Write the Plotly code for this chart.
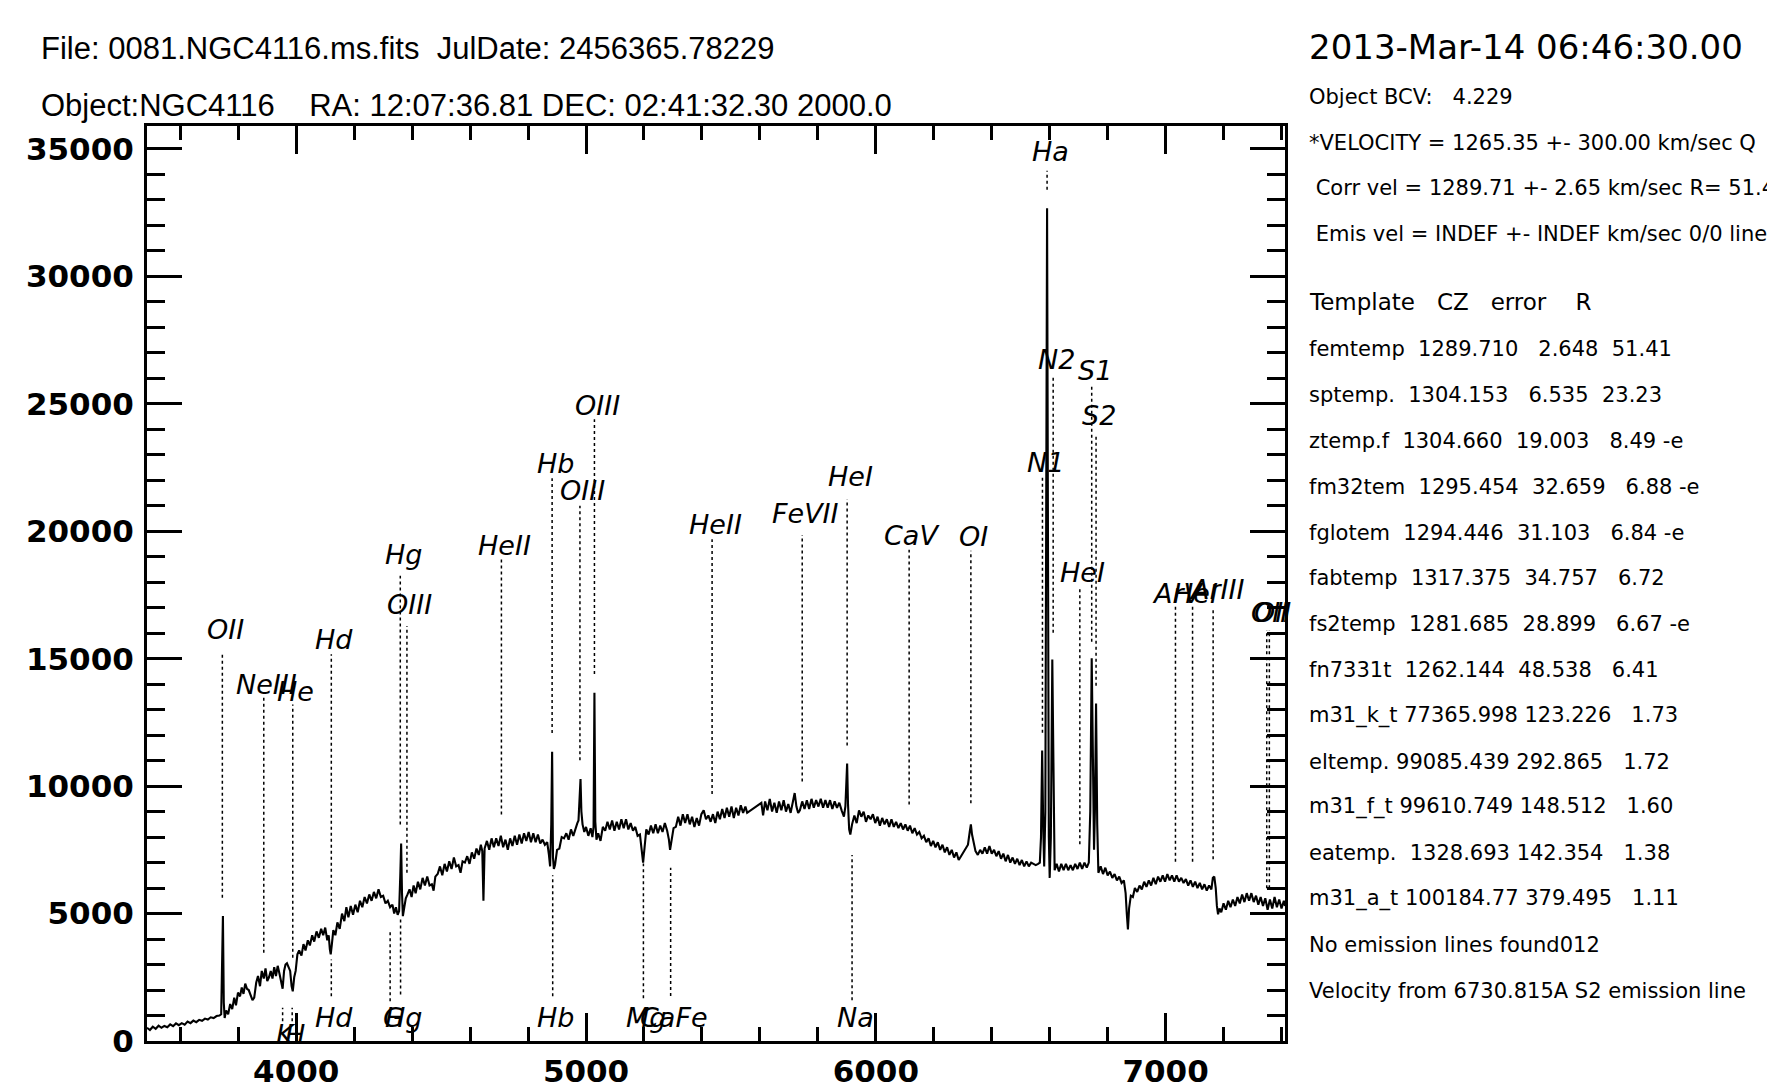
import plotly.graph_objects as go

# ---------------- spectrum (wavelength in Angstrom, flux in counts) ----------------
wave = [3485, 3495, 3505, 3515, 3525, 3535, 3545, 3555, 3565, 3575, 3585, 3595, 3605, 3615, 3625, 3635,
        3645, 3655, 3665, 3675, 3685, 3695, 3705, 3715, 3725, 3735, 3741, 3744, 3747, 3750, 3753,
        3758, 3765, 3772, 3779, 3786, 3792, 3799, 3806, 3812, 3818, 3824, 3830, 3836, 3843, 3849, 3855,
        3862, 3868, 3875, 3881, 3888, 3894, 3900, 3906, 3912, 3918, 3924, 3930, 3936, 3942, 3948, 3953,
        3958, 3963, 3968, 3974, 3979, 3984, 3988, 3993, 3998, 4004, 4010, 4018, 4025, 4032, 4040, 4047,
        4055, 4062, 4070, 4078, 4086, 4093, 4100, 4107, 4112, 4116, 4119, 4123, 4128, 4135, 4142, 4150,
        4158, 4166, 4173, 4180, 4188, 4196, 4204, 4212, 4220, 4228, 4236, 4244, 4252, 4260, 4268, 4276,
        4284, 4292, 4300, 4308, 4316, 4324, 4332, 4338, 4344, 4350, 4355, 4359, 4362, 4365, 4368, 4373,
        4378, 4384, 4391, 4398, 4405, 4412, 4420, 4428, 4436, 4444, 4452, 4460, 4468, 4474, 4480, 4488,
        4496, 4504, 4512, 4520, 4528, 4536, 4544, 4552, 4560, 4567, 4574, 4582, 4590, 4598, 4606, 4614,
        4622, 4630, 4637, 4642, 4646, 4650, 4658, 4666, 4674, 4682, 4690, 4698, 4706, 4714, 4722, 4730,
        4738, 4746, 4754, 4762, 4770, 4778, 4786, 4794, 4802, 4810, 4818, 4826, 4834, 4842, 4850, 4858,
        4866, 4872, 4876, 4880, 4883, 4886, 4889, 4893, 4900, 4908, 4916, 4924, 4932, 4940, 4948, 4956,
        4964, 4970, 4974, 4978, 4981, 4984, 4988, 4994, 5000, 5008, 5016, 5022, 5026, 5029, 5032, 5036,
        5042, 5050, 5058, 5066, 5074, 5082, 5090, 5098, 5106, 5114, 5122, 5130, 5138, 5146, 5154, 5162,
        5170, 5178, 5186, 5192, 5197, 5202, 5208, 5216, 5224, 5232, 5240, 5248, 5256, 5264, 5272, 5280,
        5286, 5290, 5295, 5302, 5310, 5318, 5326, 5334, 5342, 5350, 5358, 5366, 5374, 5382, 5390, 5398,
        5406, 5414, 5422, 5430, 5438, 5446, 5454, 5462, 5470, 5478, 5486, 5494, 5502, 5510, 5518, 5526,
        5534, 5542, 5550, 5556, 5605, 5611, 5618, 5626, 5634, 5642, 5650, 5658, 5666, 5674, 5682, 5690,
        5698, 5706, 5714, 5720, 5726, 5732, 5738, 5746, 5754, 5762, 5770, 5778, 5786, 5794, 5802, 5810,
        5818, 5826, 5834, 5842, 5850, 5858, 5866, 5874, 5882, 5890, 5895, 5898, 5901, 5904, 5908, 5912,
        5918, 5926, 5934, 5942, 5950, 5958, 5966, 5974, 5982, 5990, 5998, 6006, 6014, 6022, 6030, 6038,
        6046, 6054, 6062, 6070, 6078, 6086, 6094, 6102, 6110, 6118, 6126, 6134, 6142, 6150, 6158, 6166,
        6174, 6182, 6190, 6198, 6206, 6214, 6222, 6230, 6238, 6246, 6254, 6262, 6270, 6278, 6286, 6294,
        6302, 6310, 6318, 6324, 6328, 6332, 6338, 6344, 6352, 6360, 6368, 6376, 6384, 6392, 6400, 6408,
        6416, 6424, 6432, 6440, 6448, 6456, 6464, 6472, 6480, 6488, 6496, 6504, 6512, 6520, 6528, 6536,
        6544, 6552, 6560, 6566, 6570, 6574, 6578, 6581, 6585, 6588, 6591, 6594, 6597, 6600, 6604, 6609,
        6613, 6617, 6624, 6632, 6640, 6648, 6656, 6664, 6672, 6680, 6688, 6696, 6704, 6712, 6720, 6728,
        6735, 6740, 6745, 6750, 6753, 6756, 6760, 6764, 6768, 6776, 6784, 6792, 6800, 6808, 6816, 6824,
        6832, 6840, 6848, 6856, 6862, 6866, 6870, 6874, 6880, 6887, 6894, 6902, 6910, 6918, 6926, 6934,
        6942, 6950, 6958, 6966, 6974, 6982, 6990, 6998, 7006, 7014, 7022, 7030, 7038, 7046, 7054, 7062,
        7070, 7078, 7086, 7094, 7102, 7110, 7118, 7126, 7134, 7142, 7150, 7158, 7163, 7168, 7173, 7177,
        7181, 7186, 7192, 7200, 7208, 7216, 7224, 7232, 7240, 7248, 7256, 7264, 7272, 7280, 7288, 7296,
        7304, 7312, 7320, 7328, 7336, 7344, 7352, 7360, 7368, 7376, 7384, 7392, 7400, 7408, 7412]

flux = [520, 430, 560, 480, 600, 520, 590, 540, 650, 580, 690, 620, 700, 640, 760, 700,
        800, 740, 830, 790, 880, 840, 930, 900, 980, 1000, 1050, 2600, 4900, 1500, 900,
        1200, 1050, 1450, 1250, 1700, 1400, 1900, 1750, 2100, 1850, 2250, 2050, 2000, 1800, 1600, 1700,
        2300, 2550, 2150, 2750, 2450, 2850, 2350, 2500, 2750, 2450, 2900, 2550, 2950, 2650, 2350, 2050,
        2750, 3000, 3050, 2850, 2750, 2150, 1950, 2500, 2750, 3400, 3550, 3350, 3800, 3550, 3950, 3750,
        4150, 3900, 4300, 4050, 4400, 4150, 4450, 3950, 4150, 3600, 3400, 3800, 4350, 4150, 4650, 4400,
        5000, 4700, 5250, 4850, 5300, 4950, 5350, 5050, 5500, 5250, 5650, 5400, 5750, 5500, 5850, 5600,
        5950, 5650, 5700, 5400, 5500, 5250, 5350, 5000, 5250, 4950, 5100, 6500, 7750, 5800, 4900, 5250,
        5600, 5750, 5950, 5650, 6100, 5800, 6250, 5950, 6400, 6100, 6450, 6100, 6150, 5900, 6450, 6550,
        6850, 6500, 6950, 6650, 7050, 6750, 7200, 6850, 6900, 6600, 7050, 7000, 7250, 6950, 7400, 7150,
        7550, 7300, 7700, 7450, 5500, 7550, 7850, 7500, 7950, 7600, 7950, 7650, 8050, 7600, 7900, 7500,
        7950, 7650, 8050, 7700, 8100, 7750, 8150, 7850, 8200, 7800, 8150, 7800, 8100, 7750, 7900, 7700,
        7800, 7300, 6850, 8500, 11350, 7200, 6750, 6900, 7500, 7550, 8000, 7950, 8150, 7900, 8300, 8050,
        8400, 8550, 8650, 9400, 10280, 9000, 8500, 8200, 8400, 8050, 8350, 8000, 8400, 13660, 8600, 7900,
        8150, 7850, 8400, 8250, 8600, 8300, 8650, 8250, 8600, 8300, 8700, 8350, 8700, 8300, 8550, 8250,
        8400, 8050, 8100, 7500, 7000, 7600, 8300, 8100, 8450, 8150, 8500, 8150, 8450, 8200, 8550, 8250,
        7900, 7500, 7900, 8350, 8400, 8800, 8450, 8900, 8550, 8900, 8500, 8800, 8400, 8750, 8450, 8900,
        9050, 8700, 8850, 8600, 8900, 8550, 9000, 8700, 9100, 8750, 9150, 8800, 9200, 8750, 9150, 8850,
        9250, 8950, 9200, 8950, 9340, 8850, 9400, 9050, 9500, 9000, 9350, 8950, 9400, 9050, 9450, 9000,
        9300, 8950, 9400, 9730, 9200, 8950, 9050, 9400, 9100, 9450, 9100, 9500, 9150, 9450, 9200, 9500,
        9150, 9450, 9150, 9450, 9100, 9400, 9150, 9350, 9050, 8800, 9200, 10200, 10890, 9300, 8300, 8100,
        8500, 8850, 8550, 9050, 8800, 9000, 8600, 8850, 8700, 8900, 8550, 8800, 8450, 8750, 8500, 8700,
        8400, 8700, 8400, 8600, 8350, 8550, 8300, 8500, 8250, 8450, 8150, 8350, 8100, 8200, 7950, 8050,
        7800, 7950, 7650, 7850, 7600, 7800, 7500, 7700, 7400, 7600, 7300, 7500, 7200, 7400, 7100, 7250,
        7400, 7550, 7700, 8200, 8500, 8100, 7700, 7450, 7300, 7500, 7350, 7600, 7350, 7650, 7350, 7500,
        7250, 7450, 7150, 7350, 7050, 7300, 7000, 7200, 6950, 7150, 6900, 7100, 6850, 7050, 6850, 7000,
        6950, 6900, 6950, 7000, 8000, 11400, 8200, 6850, 9000, 20000, 32670, 20000, 8000, 6400, 8000, 14970,
        9000, 6700, 6950, 6650, 6950, 6700, 6950, 6700, 6900, 6700, 6950, 6750, 7000, 6750, 7000, 6800,
        7000, 9000, 15020, 9000, 7500, 9000, 13240, 8500, 6600, 6850, 6550, 6800, 6500, 6650, 6400, 6550,
        6300, 6450, 6200, 6300, 5800, 5000, 4380, 5200, 5700, 5650, 6000, 5850, 6100, 5950, 6250, 6050,
        6300, 6100, 6400, 6150, 6450, 6250, 6500, 6250, 6550, 6300, 6500, 6250, 6500, 6250, 6400, 6200,
        6350, 6100, 6300, 6050, 6250, 6000, 6200, 5950, 6150, 5900, 6100, 5950, 6400, 6450, 6000, 5300,
        4970, 5200, 5050, 5400, 5150, 5500, 5250, 5550, 5300, 5650, 5400, 5750, 5450, 5800, 5500, 5800,
        5450, 5700, 5350, 5650, 5300, 5600, 5150, 5550, 5200, 5650, 5250, 5550, 5200, 5500, 5300]

# ---------------- emission line markers (drawn above the spectrum) ----------------
em_names = ["OII", "NeIII", "He", "Hd", "Hg", "OIII", "HeII", "Hb", "OIII", "OIII", "HeII", "FeVII",
            "HeI", "CaV", "OI", "N1", "Ha", "N2", "HeI", "S1", "S2", "ArV", "HeI", "ArIII", "OII", "OII"]
em_wave = [3745, 3888, 3988, 4121, 4359, 4382, 4708, 4883, 4979, 5029, 5435, 5746,
           5901, 6115, 6328, 6575, 6591, 6612, 6704, 6745, 6760, 7034, 7093, 7164, 7349, 7358]
em_low = [5620, 3460, 3265, 5227, 8497, 6601, 8890, 12088, 11013, 14400, 9690, 10185,
          11597, 9282, 9333, 12095, 33403, 16013, 7720, 15667, 13941, 7030, 7030, 7130, 5993, 5993]
em_high = [15236, 13470, 13206, 15170, 18250, 16280, 18913, 22080, 21005, 24392, 19683, 19851,
           21252, 19270, 19238, 22115, 34140, 26032, 17739, 25686, 23729, 17052, 17052, 16900, 16127, 16127]
em_label = [16150, 13990, 13730, 15760, 19090, 17145, 19443, 22665, 21605, 24940, 20262, 20711,
            22162, 19851, 19812, 22692, 34898, 26723, 18387, 26307, 24533, 17563, 17563, 17700, 16817, 16817]

# ---------------- absorption line markers (drawn below the spectrum) ----------------
ab_names = ["K", "H", "Hd", "G", "Hg", "Hb", "Mg", "CaFe", "Na"]
ab_wave = [3953, 3986, 4121, 4324, 4360, 4885, 5198, 5292, 5918]
ab_low = [778, 778, 1760, 1563, 1825, 1760, 1680, 1762, 1597]
ab_high = [1302, 1302, 3200, 4310, 4768, 6500, 6966, 6801, 7296]
ab_label = [255, 255, 930, 930, 930, 930, 938, 938, 938]

# ---------------- header / side panel text ----------------
header_left = ["File: 0081.NGC4116.ms.fits  JulDate: 2456365.78229",
               "Object:NGC4116    RA: 12:07:36.81 DEC: 02:41:32.30 2000.0"]
date_text = "2013-Mar-14 06:46:30.00"
side_top = ["Object BCV:   4.229",
            "*VELOCITY = 1265.35 +- 300.00 km/sec Q",
            " Corr vel = 1289.71 +- 2.65 km/sec R= 51.41",
            " Emis vel = INDEF +- INDEF km/sec 0/0 lines"]
table_header = "Template   CZ   error    R"
table_rows = ["femtemp  1289.710   2.648  51.41",
              "sptemp.  1304.153   6.535  23.23",
              "ztemp.f  1304.660  19.003   8.49 -e",
              "fm32tem  1295.454  32.659   6.88 -e",
              "fglotem  1294.446  31.103   6.84 -e",
              "fabtemp  1317.375  34.757   6.72",
              "fs2temp  1281.685  28.899   6.67 -e",
              "fn7331t  1262.144  48.538   6.41",
              "m31_k_t 77365.998 123.226   1.73",
              "eltemp. 99085.439 292.865   1.72",
              "m31_f_t 99610.749 148.512   1.60",
              "eatemp.  1328.693 142.354   1.38",
              "m31_a_t 100184.77 379.495   1.11",
              "No emission lines found012",
              "Velocity from 6730.815A S2 emission line"]

# ---------------- layout geometry (pixels) ----------------
W, H = 1767, 1082
L, R, T, B = 147, 1285, 126, 1041.5


def px(xp):
    return (xp - L) / (R - L)


def py(yp):
    return (B - yp) / (B - T)


def nb(s):
    return s.replace(" ", "\u00a0")


fig = go.Figure()

fig.add_trace(go.Scatter(x=wave, y=flux, mode="lines",
                         line=dict(color="black", width=2.1), hoverinfo="skip"))

mx, my = [], []
for w, lo, hi in zip(em_wave, em_low, em_high):
    mx += [w, w, None]
    my += [lo, hi, None]
for w, lo, hi in zip(ab_wave, ab_low, ab_high):
    mx += [w, w, None]
    my += [lo, hi, None]
fig.add_trace(go.Scatter(x=mx, y=my, mode="lines",
                         line=dict(color="black", width=1.5, dash="3px,3px"), hoverinfo="skip"))

ann = []
lab_font = dict(family="DejaVu Sans", size=27, color="black", style="italic")
for n, w, yl in zip(em_names, em_wave, em_label):
    ann.append(dict(x=w, y=yl, xref="x", yref="y", text=n, showarrow=False,
                    xanchor="center", yanchor="middle", xshift=3, font=lab_font))
for n, w, yl in zip(ab_names, ab_wave, ab_label):
    ann.append(dict(x=w, y=yl, xref="x", yref="y", text=n, showarrow=False,
                    xanchor="center", yanchor="middle", xshift=3, font=lab_font))

hdr_font = dict(family="Liberation Sans", size=31, color="black")
for txt, yc in zip(header_left, [48, 105]):
    ann.append(dict(x=px(39), y=py(yc), xref="paper", yref="paper", text=nb(txt),
                    showarrow=False, xanchor="left", yanchor="middle", font=hdr_font))

ann.append(dict(x=px(1307), y=py(47), xref="paper", yref="paper", text=nb(date_text),
                showarrow=False, xanchor="left", yanchor="middle",
                font=dict(family="DejaVu Sans", size=34, color="black")))

side_font = dict(family="DejaVu Sans", size=21, color="black")
for txt, yc in zip(side_top, [97, 143, 188, 234]):
    ann.append(dict(x=px(1307), y=py(yc), xref="paper", yref="paper", text=nb(txt),
                    showarrow=False, xanchor="left", yanchor="middle", font=side_font))
ann.append(dict(x=px(1307), y=py(302), xref="paper", yref="paper", text=nb(table_header),
                showarrow=False, xanchor="left", yanchor="middle",
                font=dict(family="DejaVu Sans", size=23, color="black")))
row_y = [349, 395, 441, 487, 533, 578, 624, 670, 716, 762, 807, 853, 899, 945, 991]
for txt, yc in zip(table_rows, row_y):
    ann.append(dict(x=px(1307), y=py(yc), xref="paper", yref="paper", text=nb(txt),
                    showarrow=False, xanchor="left", yanchor="middle", font=side_font))

tick_font = dict(family="DejaVu Sans", size=31, color="black", weight="bold")

fig.update_layout(
    width=W, height=H,
    margin=dict(l=L, r=W - R, t=T, b=H - B, pad=0, autoexpand=False),
    paper_bgcolor="white", plot_bgcolor="white",
    showlegend=False,
    annotations=ann,
    xaxis=dict(range=[3485, 7412], showgrid=False, zeroline=False, automargin=False,
               showline=True, linecolor="black", linewidth=3, mirror="ticks",
               ticks="inside", ticklen=28, tickwidth=2.5, tickcolor="black",
               tick0=0, dtick=1000, tickformat="d", tickfont=tick_font, ticklabelstandoff=1,
               minor=dict(ticks="inside", ticklen=14, tickwidth=2.5, tickcolor="black",
                          dtick=200, showgrid=False)),
    yaxis=dict(range=[0, 35900], showgrid=False, zeroline=False, automargin=False,
               showline=True, linecolor="black", linewidth=3, mirror="ticks",
               ticks="inside", ticklen=35, tickwidth=2.5, tickcolor="black",
               tick0=0, dtick=5000, tickformat="d", tickfont=tick_font, ticklabelstandoff=4,
               minor=dict(ticks="inside", ticklen=18, tickwidth=2.5, tickcolor="black",
                          dtick=1000, showgrid=False)),
)

fig.write_html("out.html")
